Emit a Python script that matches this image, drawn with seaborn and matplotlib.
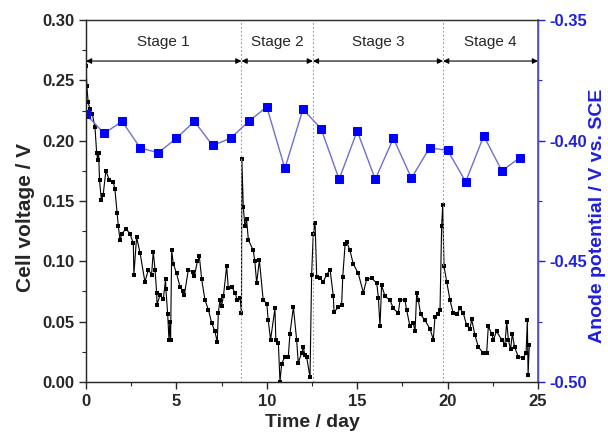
import matplotlib
matplotlib.use("Agg")
import matplotlib.pyplot as plt
import seaborn as sns
import pandas as pd

# cell voltage trace (day, V)
cell_day = [0.0, 0.05, 0.12, 0.22, 0.35, 0.5, 0.59, 0.65, 0.7, 0.75, 0.85, 0.95, 1.1, 1.3, 1.5, 1.6, 1.72,
            1.79, 1.88, 2.0, 2.21, 2.43, 2.62, 2.65, 2.8, 2.99, 3.26, 3.45, 3.63, 3.72, 3.82, 3.91, 3.93,
            4.09, 4.28, 4.4, 4.42, 4.52, 4.59, 4.64, 4.68, 4.74, 4.83, 5.01, 5.2, 5.38, 5.44, 5.66, 5.94,
            6.0, 6.16, 6.27, 6.4, 6.58, 6.77, 6.95, 7.13, 7.26, 7.32, 7.41, 7.5, 7.6, 7.78, 7.87, 8.06,
            8.24, 8.37, 8.52, 8.6, 8.62, 8.7, 8.79, 8.88, 8.98, 9.25, 9.34, 9.44, 9.59, 9.8, 10.0, 10.08,
            10.21, 10.45, 10.5, 10.64, 10.73, 10.82, 11.0, 11.19, 11.28, 11.47, 11.65, 11.74, 11.93, 12.02,
            12.11, 12.2, 12.39, 12.48, 12.57, 12.67, 12.76, 12.94, 13.12, 13.31, 13.5, 13.68, 13.72, 13.96,
            14.14, 14.2, 14.33, 14.42, 14.6, 14.78, 15.06, 15.34, 15.52, 15.8, 16.08, 16.17, 16.26, 16.35,
            16.54, 16.81, 17.0, 17.27, 17.37, 17.64, 17.73, 17.92, 18.1, 18.2, 18.29, 18.38, 18.51, 18.75,
            19.03, 19.21, 19.3, 19.49, 19.58, 19.67, 19.73, 19.8, 19.95, 20.13, 20.31, 20.5, 20.69, 20.87,
            21.05, 21.24, 21.33, 21.51, 21.7, 21.97, 22.16, 22.25, 22.44, 22.53, 22.71, 22.99, 23.17, 23.27,
            23.36, 23.48, 23.58, 23.7, 23.91, 24.19, 24.34, 24.41, 24.45, 24.52]
cell_v = [0.262, 0.245, 0.232, 0.226, 0.222, 0.211, 0.19, 0.184, 0.19, 0.167, 0.151, 0.155, 0.175, 0.167, 0.166, 0.16, 0.14,
          0.129, 0.118, 0.123, 0.127, 0.123, 0.115, 0.089, 0.12, 0.107, 0.083, 0.093, 0.089, 0.108, 0.093, 0.074, 0.064,
          0.072, 0.069, 0.085, 0.077, 0.056, 0.035, 0.05, 0.035, 0.109, 0.098, 0.09, 0.079, 0.075, 0.072, 0.093, 0.091,
          0.088, 0.1, 0.104, 0.085, 0.068, 0.06, 0.049, 0.042, 0.033, 0.057, 0.068, 0.063, 0.071, 0.096, 0.078, 0.079,
          0.074, 0.068, 0.07, 0.057, 0.185, 0.145, 0.129, 0.135, 0.118, 0.109, 0.1, 0.082, 0.101, 0.068, 0.065, 0.051,
          0.035, 0.061, 0.035, 0.032, 0.0, 0.015, 0.021, 0.021, 0.04, 0.062, 0.035, 0.016, 0.024, 0.029,
          0.022, 0.021, 0.004, 0.089, 0.123, 0.132, 0.087, 0.086, 0.083, 0.089, 0.093, 0.071, 0.058, 0.062,
          0.064, 0.087, 0.114, 0.116, 0.109, 0.098, 0.09, 0.074, 0.085, 0.086, 0.082, 0.07, 0.046, 0.08,
          0.071, 0.068, 0.061, 0.057, 0.068, 0.068, 0.06, 0.046, 0.049, 0.042, 0.074, 0.068, 0.056, 0.051,
          0.044, 0.035, 0.054, 0.056, 0.06, 0.129, 0.147, 0.096, 0.083, 0.068, 0.057, 0.056, 0.061, 0.057,
          0.047, 0.044, 0.052, 0.039, 0.029, 0.024, 0.024, 0.046, 0.04, 0.035, 0.042, 0.035, 0.031, 0.05,
          0.035, 0.027, 0.04, 0.029, 0.021, 0.02, 0.024, 0.051, 0.006, 0.031]

# anode potential, one point per day
anode_day = list(range(25))
anode_v = [-0.389, -0.397, -0.392, -0.403, -0.405, -0.399, -0.392, -0.402, -0.399, -0.392, -0.386, -0.4115, -0.387,
           -0.395, -0.416, -0.396, -0.416, -0.399, -0.4155, -0.403, -0.404, -0.417, -0.398, -0.4125, -0.407]

stage_names = ["Stage 1", "Stage 2", "Stage 3", "Stage 4"]
stage_edges = [0, 8.6, 12.55, 19.75, 25]

cell = pd.DataFrame({"day": cell_day, "v": cell_v})
anode = pd.DataFrame({"day": anode_day, "v": anode_v})

sns.set_style("ticks")
plt.rcParams["font.family"] = ["Liberation Sans", "DejaVu Sans"]
plt.rcParams["font.weight"] = "bold"

fig = plt.figure(figsize=(6.08, 4.38), dpi=100)
ax = fig.add_axes([0.1414, 0.1279, 0.7435, 0.8264])

sns.lineplot(data=cell, x="day", y="v", ax=ax, color="black", linewidth=0.8,
             marker="s", markersize=2.2, markeredgewidth=0, sort=False)

for xb in stage_edges[1:-1]:
    ax.axvline(xb, color="#999999", linestyle=(0, (1.5, 2)), linewidth=0.8)

for i, name in enumerate(stage_names):
    a, b = stage_edges[i], stage_edges[i + 1]
    ax.annotate("", xy=(a, 0.266), xytext=(b, 0.266),
                arrowprops=dict(arrowstyle="<|-|>", color="black", lw=0.8,
                                mutation_scale=8, shrinkA=0, shrinkB=0))
    ax.text((a + b) / 2, 0.282, name, ha="center", va="center", fontsize=11, fontweight="normal")

ax.set_xlim(0, 25)
ax.set_ylim(0, 0.30)
ax.set_xticks([0, 5, 10, 15, 20, 25])
ax.set_xticks([2.5, 7.5, 12.5, 17.5, 22.5], minor=True)
ax.set_yticks([0, 0.05, 0.10, 0.15, 0.20, 0.25, 0.30])
ax.set_yticks([0.025, 0.075, 0.125, 0.175, 0.225, 0.275], minor=True)
ax.set_yticklabels(["0.00", "0.05", "0.10", "0.15", "0.20", "0.25", "0.30"])
ax.tick_params(axis="both", which="major", labelsize=12, length=5, width=1)
ax.tick_params(axis="both", which="minor", length=3, width=0.8)
ax.set_xlabel("Time / day", fontsize=14, fontweight="bold")
ax.set_ylabel("Cell voltage / V", fontsize=15, fontweight="bold")
ax.yaxis.set_label_coords(-0.112, 0.455)
for sp in ax.spines.values():
    sp.set_color("#333333")
    sp.set_linewidth(1)

ax2 = ax.twinx()
sns.lineplot(data=anode, x="day", y="v", ax=ax2, color="#6f6fd0", linewidth=1,
             marker="s", markersize=5.5, markerfacecolor="#0000ff", markeredgecolor="#0000ff")
ax2.set_ylim(-0.50, -0.35)
ax2.set_yticks([-0.50, -0.45, -0.40, -0.35])
ax2.set_yticks([-0.475, -0.425, -0.375], minor=True)
ax2.set_yticklabels(["-0.50", "-0.45", "-0.40", "-0.35"])
ax2.tick_params(axis="y", which="major", labelsize=12, length=5, width=1, colors="#2020dd")
ax2.tick_params(axis="y", which="minor", length=3, width=0.8, colors="#2020dd")
ax2.set_ylabel("Anode potential / V vs. SCE", fontsize=14, fontweight="bold", color="#2020dd")
ax2.yaxis.set_label_coords(1.112, 0.46)
ax2.spines["right"].set_color("#5555dd")
ax2.spines["right"].set_linewidth(1.2)
ax2.spines["top"].set_color("#333333")

fig.savefig("out.png", dpi=100)
